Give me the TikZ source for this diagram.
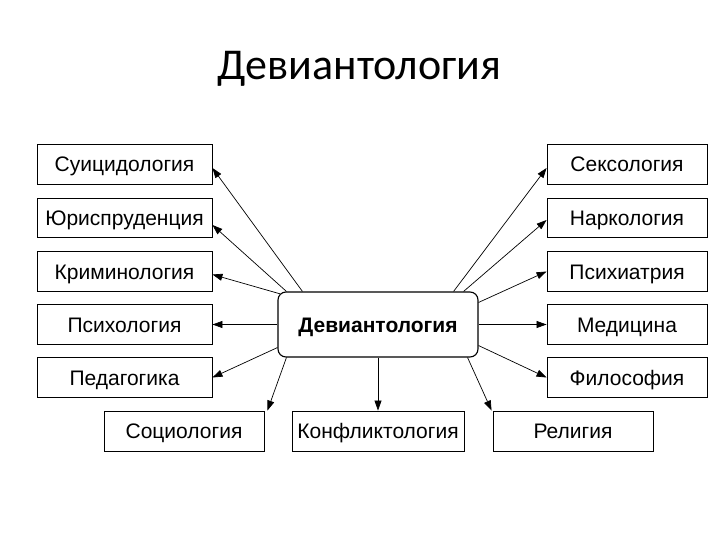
\documentclass[tikz,border=0pt]{standalone}
\usepackage{fontspec}
\setmainfont{Liberation Sans}
\newfontfamily\titlefont{Carlito}
\usetikzlibrary{arrows.meta}
\begin{document}
\begin{tikzpicture}[x=1pt,y=-1pt,
  box/.style={draw=black, line width=0.9pt, inner sep=0pt, minimum height=39.5pt,
    text height=15pt, text depth=0pt,
    font=\fontsize{21}{24}\selectfont},
  lbox/.style={box, minimum width=175pt},
  rbox/.style={box, minimum width=160pt},
  centerbox/.style={draw=black, line width=1.1pt, rounded corners=8pt, inner sep=0pt,
    text height=15pt, text depth=0pt,
    minimum width=200pt, minimum height=65pt, font=\bfseries\fontsize{21}{24}\selectfont},
  arr/.style={draw=black, line width=0.7pt, -{Triangle[length=10pt,width=7pt]}}]
\useasboundingbox (0,0) rectangle (720,540);
\fill[white] (0,0) rectangle (720,540);

\node[anchor=base, font=\titlefont\fontsize{44}{50}\selectfont] (title) at (359.5,80) {Девиантология};

\node[centerbox] (dev) at (378,324.5) {Девиантология};

\node[lbox] (suic)  at (124.5,164.5) {Суицидология};
\node[lbox] (jur)   at (124.5,218)   {Юриспруденция};
\node[lbox] (crim)  at (124.5,271.5) {Криминология};
\node[lbox] (psych) at (124.5,324.5) {Психология};
\node[lbox] (ped)   at (124.5,377.5) {Педагогика};

\node[rbox] (sex)  at (627,164.5) {Сексология};
\node[rbox] (narc) at (627,218)   {Наркология};
\node[rbox] (psyc) at (627,271.5) {Психиатрия};
\node[rbox] (med)  at (627,324.5) {Медицина};
\node[rbox] (phil) at (627,377.5) {Философия};

\node[rbox, minimum height=40pt] (soc)  at (184,431) {Социология};
\node[box, minimum width=172pt, minimum height=40pt] (conf) at (378,431) {Конфликтология};
\node[rbox, minimum height=40pt] (rel)  at (573,431) {Религия};

\draw[arr] ([xshift=25pt]dev.north west) -- ([yshift=-3.5pt]suic.east);
\draw[arr] ([xshift=9pt]dev.north west) -- ([yshift=-7pt]jur.east);
\draw[arr] ([xshift=2.3pt,yshift=-2.3pt]dev.north west) -- ([yshift=-3pt]crim.east);
\draw[arr] (dev.west) -- (psych.east);
\draw[arr] ([yshift=10pt]dev.south west) -- (ped.east);
\draw[arr] ([xshift=9pt]dev.south west) -- ([xshift=3pt]soc.north east);
\draw[arr] (dev.south) -- (conf.north);
\draw[arr] ([xshift=-11pt]dev.south east) -- ([xshift=-1pt]rel.north west);
\draw[arr] ([yshift=12pt]dev.south east) -- (phil.west);
\draw[arr] (dev.east) -- (med.west);
\draw[arr] ([yshift=-11pt]dev.north east) -- (psyc.west);
\draw[arr] ([xshift=-15pt]dev.north east) -- ([yshift=-2pt]narc.west);
\draw[arr] ([xshift=-25pt]dev.north east) -- ([yshift=-3.5pt]sex.west);
\end{tikzpicture}
\end{document}
